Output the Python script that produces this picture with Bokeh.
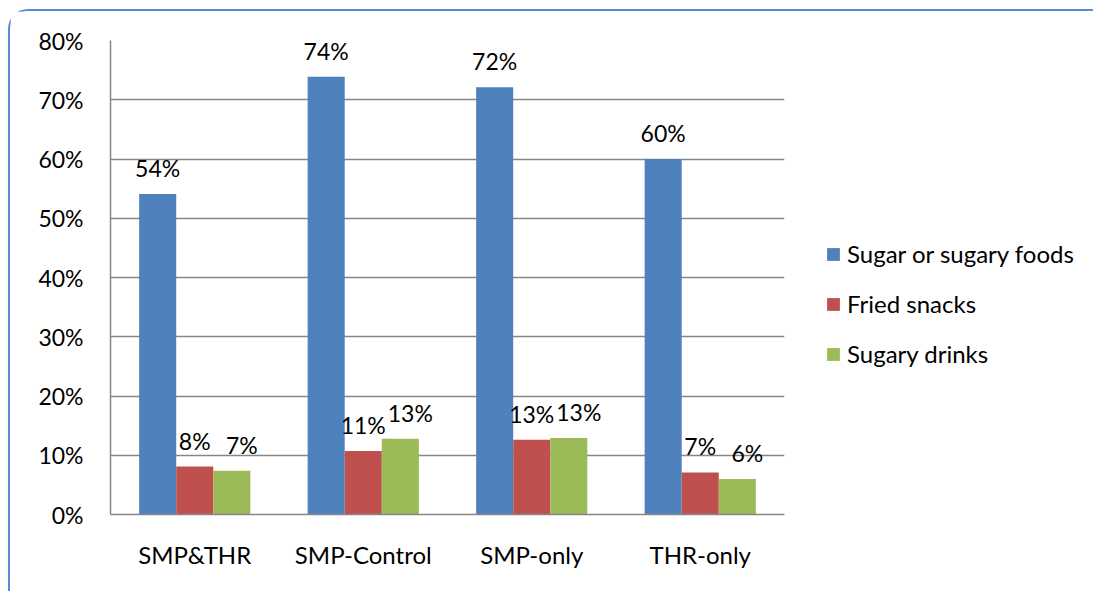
from bokeh.plotting import figure
from bokeh.models import (ColumnDataSource, FactorRange, Range1d, LabelSet, Legend, LegendItem,
                          PrintfTickFormatter, FixedTicker)
from bokeh.core.properties import value
from bokeh.transform import dodge
from bokeh.embed import file_html
from bokeh.resources import INLINE

categories = ["SMP&THR", "SMP-Control", "SMP-only", "THR-only"]
series_names = ["Sugar or sugary foods", "Fried snacks", "Sugary drinks"]
sugar_foods = [54.1, 73.9, 72.1, 60.0]
fried_snacks = [8.1, 10.7, 12.6, 7.1]
sugary_drinks = [7.4, 12.8, 12.9, 6.0]
y_ticks = [0, 10, 20, 30, 40, 50, 60, 70, 80]

colors = ["#4F81BD", "#C0504D", "#9BBB59"]
label_x_shift = [0, 0, 10]
FONT = "Lato"

p = figure(x_range=FactorRange(*categories, range_padding=0), y_range=Range1d(0, 80),
           frame_width=674, frame_height=474, width=1082, height=580,
           min_border_left=100, min_border_right=308, min_border_top=29, min_border_bottom=77,
           output_backend="svg", toolbar_location=None, tools="")
p.outline_line_color = None
p.background_fill_color = "white"
p.border_fill_color = "white"
p.styles = {"margin-left": "8px", "margin-top": "9px",
            "border-left": "2px solid #5B8BD0", "border-top": "2px solid #5B8BD0",
            "border-top-left-radius": "20px"}

bar_w = 0.22
renderers = []
for i, (name, vals) in enumerate(zip(series_names, [sugar_foods, fried_snacks, sugary_drinks])):
    src = ColumnDataSource(dict(cat=categories, val=vals, lbl=[f"{round(v)}%" for v in vals]))
    off = (i - 1) * bar_w
    r = p.vbar(x=dodge("cat", off, range=p.x_range), top="val", width=bar_w, source=src,
               fill_color=colors[i], line_color=None)
    renderers.append(r)
    lbls = LabelSet(x=dodge("cat", off, range=p.x_range), y="val", text="lbl", source=src,
                    x_offset=label_x_shift[i], y_offset=17, text_align="center",
                    text_baseline="alphabetic",
                    text_font=value(FONT), text_font_size="23px", text_color="black")
    p.add_layout(lbls)

# axes
p.yaxis.ticker = FixedTicker(ticks=y_ticks)
p.yaxis.formatter = PrintfTickFormatter(format="%d%%")
for ax in (p.xaxis, p.yaxis):
    ax.major_label_text_font = FONT
    ax.major_label_text_color = "black"
    ax.axis_line_color = "#868686"
    ax.axis_line_width = 1.5
    ax.major_tick_line_color = None
    ax.minor_tick_line_color = None
p.yaxis.major_label_text_font_size = "23px"
p.xaxis.major_label_text_font_size = "24px"
p.yaxis.major_label_standoff = 21
p.xaxis.major_label_standoff = 19
p.xgrid.grid_line_color = None
p.ygrid.grid_line_color = "#868686"
p.ygrid.grid_line_width = 1.5

legend = Legend(items=[LegendItem(label=n, renderers=[r]) for n, r in zip(series_names, renderers)],
                location=(41, 146), padding=0, margin=0, spacing=21,
                glyph_width=16, glyph_height=16, label_height=20, label_standoff=6,
                label_text_font=FONT, label_text_font_size="24px", label_text_color="black",
                border_line_color=None, background_fill_alpha=0)
p.add_layout(legend, "right")

open("out.html", "w").write(file_html(p, INLINE))
